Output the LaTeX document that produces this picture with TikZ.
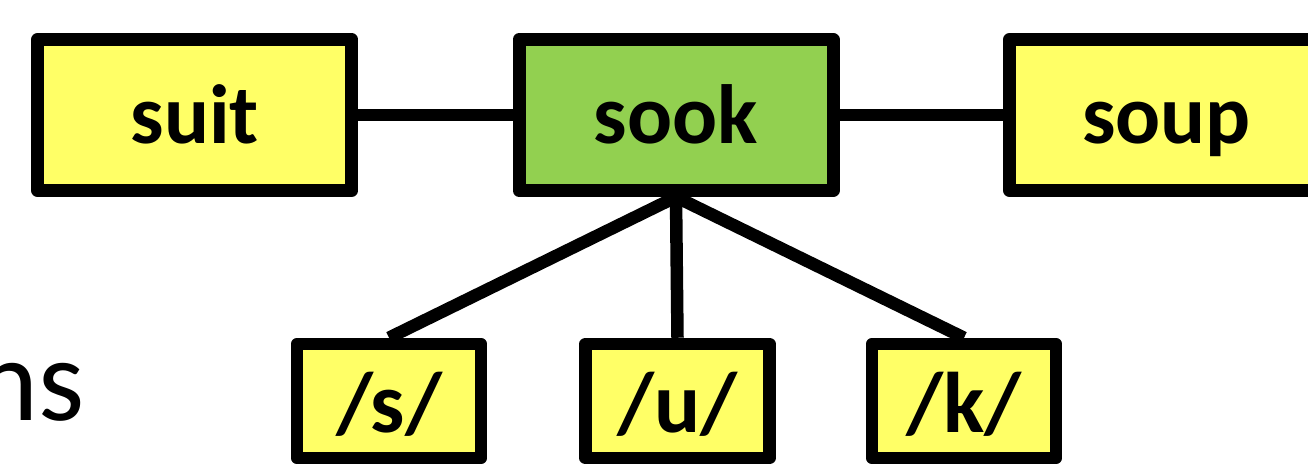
\documentclass[tikz,border=0pt]{standalone}
\usepackage{fontspec}
\setmainfont{Carlito}
\usetikzlibrary{backgrounds}
\definecolor{boxyellow}{RGB}{255,255,102}
\definecolor{boxgreen}{RGB}{146,208,80}
\tikzset{
  wordbox/.style={draw=black, line width=13pt, line join=round, fill=boxyellow,
    minimum width=314pt, minimum height=151pt, inner sep=0pt,
    font=\fontsize{84}{84}\selectfont\bfseries, text height=56pt, text depth=0pt},
  phonbox/.style={draw=black, line width=12.5pt, line join=round, fill=boxyellow,
    minimum width=184pt, minimum height=114pt, inner sep=0pt,
    font=\fontsize{86}{86}\selectfont\bfseries, text height=62pt, text depth=0pt},
  conn/.style={draw=black, line width=12.5pt},
}
\begin{document}
\begin{tikzpicture}[x=1pt,y=-1pt]
\useasboundingbox (0,0) rectangle (1308,464);
\node[wordbox] (suit) at (194.75,115) {suit};
\node[wordbox, fill=boxgreen] (sook) at (676,115) {sook};
\node[wordbox] (soup) at (1166.5,115) {soup};
\node[phonbox] (s) at (389,401) {/s/};
\node[phonbox] (u) at (677.5,401) {/u/};
\node[phonbox] (k) at (964,401) {/k/};
\node[anchor=base east, inner sep=0pt, font=\fontsize{118}{118}\selectfont] (ns) at (85,420) {ns};
\begin{scope}[on background layer]
\draw[conn] (suit.east) -- (sook.west);
\draw[conn] (sook.east) -- (soup.west);
\draw[conn] (sook.south) -- (s.north);
\draw[conn] (sook.south) -- (u.north);
\draw[conn] (sook.south) -- (k.north);
\end{scope}
\end{tikzpicture}
\end{document}
